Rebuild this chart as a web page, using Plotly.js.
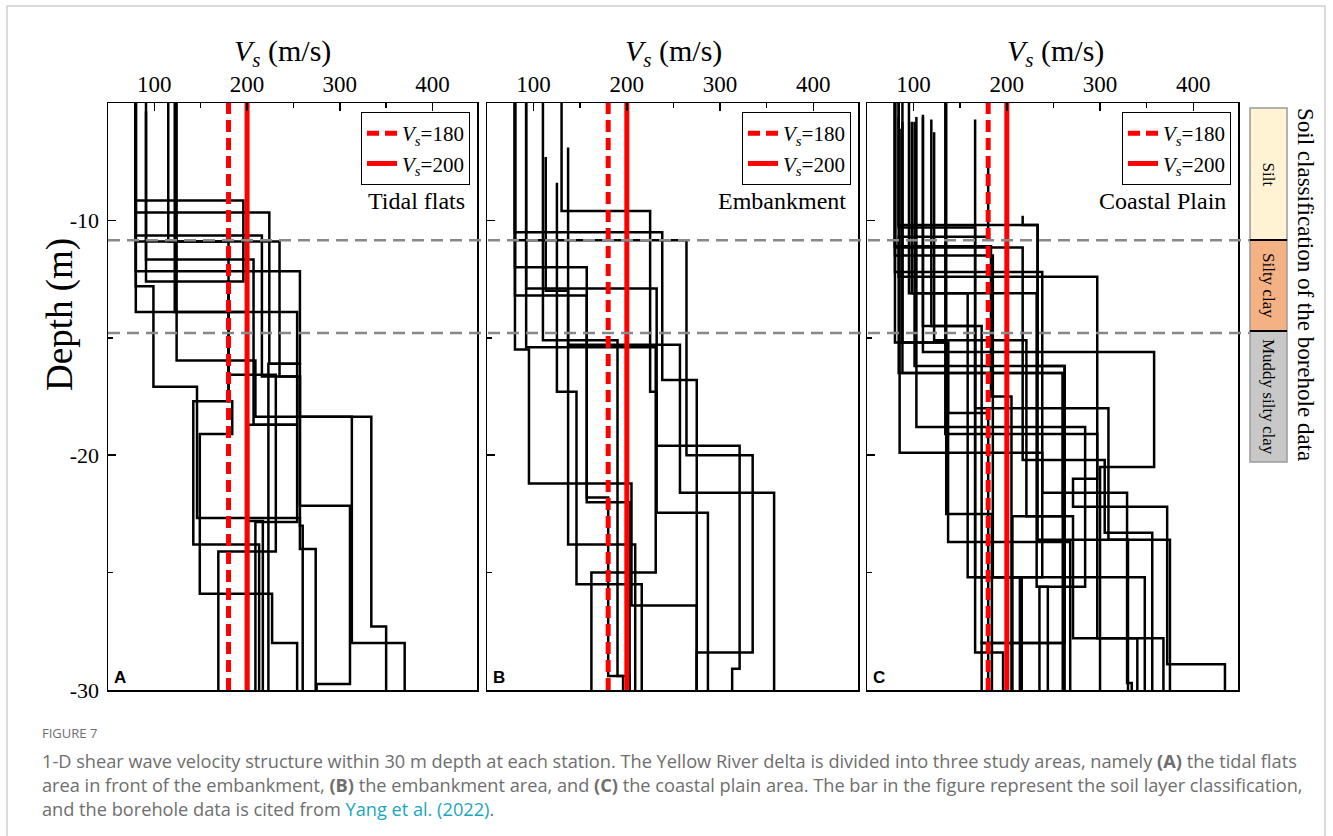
<!DOCTYPE html>
<html><head><meta charset="utf-8">
<script src="https://cdn.plot.ly/plotly-3.0.1.min.js"></script>
<style>html,body{margin:0;padding:0;background:#fff;}#chart{width:1333px;height:836px;}</style>
</head><body><div id="chart"></div>
<script>
// ---------- data ----------
const panelNames = ['Tidal flats', 'Embankment', 'Coastal Plain'];
const panelLetters = ['A', 'B', 'C'];
const refVs = [180, 200];
const refLabels = ['<i>V<sub>s</sub></i>=180', '<i>V<sub>s</sub></i>=200'];
const xTicks = [100, 200, 300, 400];
const yTicks = [-10, -20, -30];
const yTickText = ['-10', '-20', '-30'];
const soilBounds = [-10.85, -14.8];
const soilClasses = ['Silt', 'Silty clay', 'Muddy silty clay'];

// Tidal flats (A): start depth, layer velocities, layer bottoms
const tidalStart = [-5, -5, -5, -5, -5.35, -5, -5, -5, -5, -5, -5, -5];
const tidalVs = [
  [80, 196, 180, 184, 149, 227, 254],
  [80, 224, 257, 313, 370],
  [80, 216, 257, 311, 275],
  [91, 180, 142, 213],
  [91, 207, 254, 209],
  [124, 209, 334, 350],
  [80, 99, 146, 257, 260],
  [80, 235, 257, 274],
  [115, 180, 231, 169],
  [80, 254, 201],
  [80, 257, 223],
  [122, 200, 217]
];
const tidalBottom = [
  [-9.15, -12.6, -17.7, -19.1, -25.9, -28.0, -30],
  [-9.66, -16.1, -18.36, -28.0, -30],
  [-10.64, -16.65, -22.15, -29.74, -30],
  [-12.6, -17.7, -23.8, -30],
  [-11.66, -18.7, -22.84, -30],
  [-15.97, -18.36, -27.3, -30],
  [-12.8, -17.08, -22.67, -23.0, -30],
  [-10.9, -16.65, -24.0, -30],
  [-10.9, -16.57, -24.1, -30],
  [-13.9, -18.7, -30],
  [-12.17, -16.1, -30],
  [-13.9, -22.8, -30]
];

// Embankment (B)
const embStart = [-5, -5, -5, -5, -6.9, -5, -5, -8.4, -7.3, -5, -5, -5];
const embVs = [
  [80, 238, 275],
  [130, 225, 232, 287],
  [80, 264, 335, 275],
  [92, 232, 321, 313],
  [137, 257, 358],
  [80, 157, 180, 196],
  [80, 95, 205, 275],
  [125, 146, 216],
  [113, 137, 209],
  [92, 231, 162],
  [110, 190, 203],
  [80, 157, 203]
];
const embBottom = [
  [-10.5, -16.8, -30],
  [-9.6, -17.3, -22.45, -30],
  [-10.85, -20.0, -28.4, -30],
  [-12.9, -19.6, -29.1, -30],
  [-15.3, -21.6, -30],
  [-13.2, -21.8, -29.4, -30],
  [-15.5, -21.2, -26.4, -30],
  [-17.3, -25.5, -30],
  [-13.0, -23.8, -30],
  [-15.4, -25.0, -30],
  [-15.1, -29.4, -30],
  [-12.0, -22.0, -30]
];

// Coastal Plain (C)
const coastStart = [-5, -5, -7.6, -5, -5, -5, -5, -5.6, -5.8, -6.25, -5, -5.6,
                    -5.8, -5.8, -5.7, -5, -9.8, -5.6, -5.7, -5, -6.1, -5, -5, -5.5];
const coastVs = [
  [84, 233, 375],
  [84, 166, 348],
  [180, 84, 260],
  [80, 183, 205],
  [80, 217, 305, 356],
  [80, 185, 216],
  [80, 238, 329, 334],
  [84, 297, 271, 372, 434],
  [98, 232, 244],
  [122, 221, 271, 368],
  [80, 137, 268],
  [110, 358, 300],
  [101, 262, 173],
  [88, 260, 206],
  [166, 309, 330],
  [134, 297, 340],
  [217, 233, 262],
  [103, 284, 235],
  [119, 166, 196],
  [135, 184],
  [85, 238, 214],
  [88, 137, 180],
  [95, 158, 216],
  [110, 173, 261]
];
const coastBottom = [
  [-10.2, -23.6, -30],
  [-10.3, -25.2, -30],
  [-10.7, -16.5, -30],
  [-11.1, -17.5, -30],
  [-11.15, -20.2, -23.3, -30],
  [-11.5, -25.2, -30],
  [-12.2, -21.6, -29.7, -30],
  [-12.4, -21.0, -22.2, -28.9, -30],
  [-13.1, -25.6, -30],
  [-15.1, -22.6, -27.8, -30],
  [-15.2, -23.7, -30],
  [-15.6, -20.5, -30],
  [-16.2, -28.0, -30],
  [-16.5, -22.6, -30],
  [-18.0, -23.6, -30],
  [-19.1, -27.8, -30],
  [-10.2, -16.2, -30],
  [-18.8, -25.6, -30],
  [-14.5, -28.4, -30],
  [-22.5, -30],
  [-19.9, -25.2, -30],
  [-15.2, -18.2, -30],
  [-13.1, -25.2, -30],
  [-14.5, -28.0, -30]
];

const panelStarts = [tidalStart, embStart, coastStart];
const panelVs = [tidalVs, embVs, coastVs];
const panelBottoms = [tidalBottom, embBottom, coastBottom];

// ---------- helpers ----------
const W = 1333, H = 836;
const px = x => x / W;
const py = y => 1 - y / H;
const SERIF = 'Liberation Serif, Times New Roman, serif';
const SANS = 'Liberation Sans, Arial, sans-serif';
const CAP = 'Open Sans, Noto Sans, sans-serif';

const domains = [[108, 477], [487, 858], [867, 1238]];
const yDom = [py(690), py(103)];
const axIds = ['', '2', '3'];
const legIds = ['legend', 'legend2', 'legend3'];

const traces = [];
for (let p = 0; p < 3; p++) {
  const xa = 'x' + axIds[p], ya = 'y' + axIds[p];
  for (let k = 0; k < panelVs[p].length; k++) {
    const vs = panelVs[p][k], bs = panelBottoms[p][k];
    const x = [], y = [];
    let top = panelStarts[p][k];
    for (let i = 0; i < vs.length; i++) {
      x.push(vs[i], vs[i]);
      y.push(top, bs[i]);
      top = bs[i];
    }
    traces.push({type: 'scatter', mode: 'lines', x: x, y: y, xaxis: xa, yaxis: ya,
      line: {color: '#000', width: 2.5}, showlegend: false, hoverinfo: 'skip'});
  }
  for (let r = 0; r < refVs.length; r++) {
    traces.push({type: 'scatter', mode: 'lines', x: [refVs[r], refVs[r]], y: [-30, -5],
      xaxis: xa, yaxis: ya, name: refLabels[r], legend: legIds[p],
      line: {color: '#ff0000', width: 5, dash: r === 0 ? '12px,6px' : 'solid'},
      hoverinfo: 'skip'});
  }
}

const layout = {
  width: W, height: H,
  margin: {l: 0, r: 0, t: 0, b: 0},
  paper_bgcolor: '#fff', plot_bgcolor: '#fff',
  showlegend: true,
  font: {family: SERIF, color: '#000'},
  shapes: [], annotations: []
};

for (let p = 0; p < 3; p++) {
  const d = domains[p];
  layout['xaxis' + axIds[p]] = {
    domain: [px(d[0]), px(d[1])], range: [50, 448], anchor: 'y' + axIds[p],
    side: 'top', tickmode: 'array', tickvals: xTicks, ticktext: xTicks.map(String),
    ticks: 'inside', ticklen: 8, tickwidth: 1.5, tickcolor: '#000',
    minor: {tickmode: 'linear', tick0: 0, dtick: 50, ticks: 'inside', ticklen: 5, tickwidth: 1.5, tickcolor: '#000'},
    showline: true, mirror: true, linecolor: '#000', linewidth: 1.5,
    showgrid: false, zeroline: false, tickfont: {family: SERIF, size: 23, color: '#000'}
  };
  layout['yaxis' + axIds[p]] = {
    domain: yDom, range: [-30, -5], anchor: 'x' + axIds[p],
    tickmode: 'array', tickvals: yTicks, ticktext: yTickText, showticklabels: p === 0,
    ticks: 'inside', ticklen: 8, tickwidth: 1.5, tickcolor: '#000', ticklabelstandoff: 3,
    minor: {tickmode: 'linear', tick0: 0, dtick: 5, ticks: 'inside', ticklen: 5, tickwidth: 1.5, tickcolor: '#000'},
    showline: true, mirror: true, linecolor: '#000', linewidth: 1.5,
    showgrid: false, zeroline: false, tickfont: {family: SERIF, size: 22, color: '#000'}
  };
  layout[legIds[p]] = {
    x: px(d[1] - 7), y: py(112), xanchor: 'right', yanchor: 'top', xref: 'paper', yref: 'paper',
    bordercolor: '#000', borderwidth: 1, bgcolor: '#fff',
    font: {family: SERIF, size: 21, color: '#000'}, itemwidth: 30, tracegroupgap: 0
  };
  // x-axis title
  const tcx = [282, 673, 1055][p];
  layout.annotations.push({xref: 'paper', yref: 'paper', x: px(tcx), y: py(53), xanchor: 'center', yanchor: 'middle',
    text: '<i>V<sub>s</sub></i> (m/s)', showarrow: false, font: {family: SERIF, size: 30, color: '#000'}});
  // panel name
  layout.annotations.push({xref: 'paper', yref: 'paper', x: px(d[1] - 10), y: py(201), xanchor: 'right', yanchor: 'middle',
    text: panelNames[p], showarrow: false, font: {family: SERIF, size: 24, color: '#000'}});
  // panel letter
  layout.annotations.push({xref: 'paper', yref: 'paper', x: px(d[0] + 4), y: py(677), xanchor: 'left', yanchor: 'middle',
    text: '<b>' + panelLetters[p] + '</b>', showarrow: false, font: {family: SANS, size: 17, color: '#000'}});
}

// y-axis title
layout.annotations.push({xref: 'paper', yref: 'paper', x: px(60), y: py(314), xanchor: 'center', yanchor: 'middle',
  text: 'Depth (m)', textangle: -90, showarrow: false, font: {family: SERIF, size: 37, color: '#000'}});

// soil boundaries (dashed grey lines across panels)
soilBounds.forEach(b => {
  layout.shapes.push({type: 'line', xref: 'paper', yref: 'y', x0: px(108), x1: px(1250), y0: b, y1: b,
    line: {color: '#888888', width: 2.5, dash: '12px,7px'}, layer: 'above'});
});

// soil classification bar
const barX = [1250, 1287];
const barY = [108, 240, 331, 462];
const barFill = ['#FFF3D3', '#F4B183', '#C8C8C8'];
for (let i = 0; i < 3; i++) {
  layout.shapes.push({type: 'rect', xref: 'paper', yref: 'paper', x0: px(barX[0]), x1: px(barX[1]),
    y0: py(barY[i + 1]), y1: py(barY[i]), fillcolor: barFill[i], line: {color: '#9a9a9a', width: 1.5}, layer: 'above'});
  layout.annotations.push({xref: 'paper', yref: 'paper', x: px(1268.5), y: py((barY[i] + barY[i + 1]) / 2),
    xanchor: 'center', yanchor: 'middle', text: soilClasses[i], textangle: 90, showarrow: false,
    font: {family: SERIF, size: 17, color: '#000'}});
}
[240, 331].forEach(yb => layout.shapes.push({type: 'line', xref: 'paper', yref: 'paper',
  x0: px(barX[0]), x1: px(barX[1]), y0: py(yb), y1: py(yb), line: {color: '#000', width: 2}, layer: 'above'}));
layout.annotations.push({xref: 'paper', yref: 'paper', x: px(1306), y: py(284), xanchor: 'center', yanchor: 'middle',
  text: 'Soil classification of the borehole data', textangle: 90, showarrow: false,
  font: {family: SERIF, size: 23, color: '#000'}});

// figure frame
layout.shapes.push({type: 'rect', xref: 'paper', yref: 'paper', x0: px(7), x1: px(1325), y0: py(842), y1: py(6),
  line: {color: '#d0d0d0', width: 1.5}, fillcolor: 'rgba(0,0,0,0)', layer: 'below'});

// caption
const capColor = '#6e6e6e';
const capLines = [
  '1-D shear wave velocity structure within 30 m depth at each station. The Yellow River delta is divided into three study areas, namely <b>(A)</b> the tidal flats',
  'area in front of the embankment, <b>(B)</b> the embankment area, and <b>(C)</b> the coastal plain area. The bar in the figure represent the soil layer classification,',
  'and the borehole data is cited from <span style="color:#1aa6bd">Yang et al. (2022)</span>.'
];
layout.annotations.push({xref: 'paper', yref: 'paper', x: px(40), y: py(733), xanchor: 'left', yanchor: 'middle',
  text: 'FIGURE 7', showarrow: false, font: {family: CAP, size: 13, color: capColor}});
capLines.forEach((t, i) => layout.annotations.push({xref: 'paper', yref: 'paper', x: px(40), y: py(761 + 24 * i),
  xanchor: 'left', yanchor: 'middle', text: t, showarrow: false, align: 'left',
  font: {family: CAP, size: 18.2, color: capColor}}));

Plotly.newPlot('chart', traces, layout, {displayModeBar: false, staticPlot: true});
</script></body></html>
